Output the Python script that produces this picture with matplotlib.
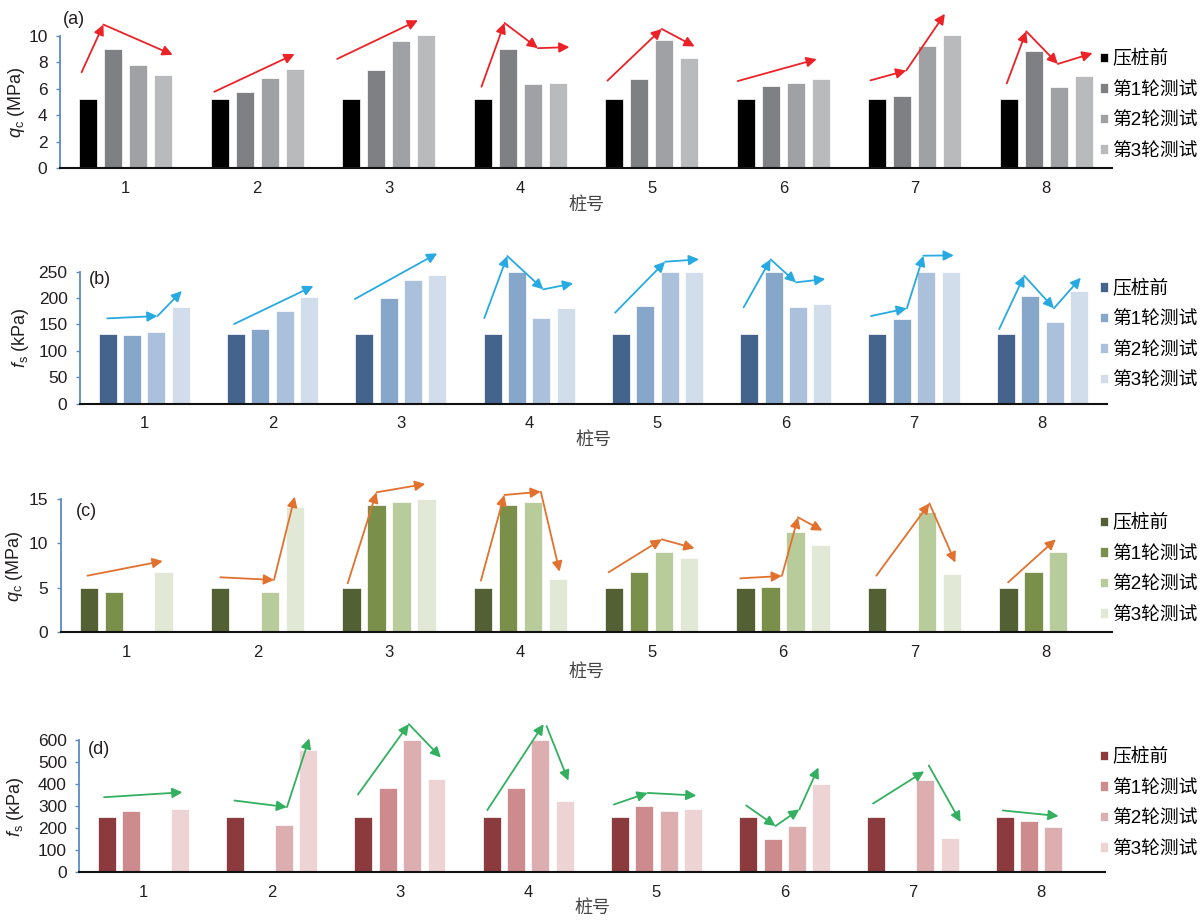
import numpy as np
import matplotlib
matplotlib.use('Agg')
from matplotlib import pyplot as plt

plt.rcParams['font.family'] = ['Liberation Sans', 'Noto Sans CJK SC']
plt.rcParams['mathtext.fontset'] = 'custom'
plt.rcParams['mathtext.rm'] = 'Liberation Sans'
plt.rcParams['mathtext.it'] = 'Liberation Sans:italic'
plt.rcParams['axes.unicode_minus'] = False

piles = [1, 2, 3, 4, 5, 6, 7, 8]
series_names = ['压桩前', '第1轮测试', '第2轮测试', '第3轮测试']
nan = np.nan

# (a) 锥尖阻力 qc (MPa)
a_before = [5.24, 5.24, 5.24, 5.24, 5.24, 5.24, 5.24, 5.24]
a_round1 = [9.01, 5.72, 7.39, 8.99, 6.76, 6.20, 5.47, 8.86]
a_round2 = [7.82, 6.78, 9.62, 6.38, 9.67, 6.46, 9.24, 6.13]
a_round3 = [7.04, 7.52, 10.08, 6.46, 8.35, 6.71, 10.08, 6.99]

# (b) 侧壁摩阻力 fs (kPa)
b_before = [132.6, 132.6, 132.6, 132.6, 132.6, 132.6, 132.6, 132.6]
b_round1 = [129.4, 141.4, 200.8, 250, 184.3, 250, 161.0, 204.5]
b_round2 = [135.1, 174.9, 233.6, 161.6, 250, 183.1, 250, 154.7]
b_round3 = [183.1, 201.4, 243.7, 181.8, 250, 189.4, 250, 212.8]

# (c) 锥尖阻力 qc (MPa)
c_before = [4.95, 4.95, 4.95, 4.95, 4.95, 4.95, 4.95, 4.95]
c_round1 = [4.57, nan, 14.36, 14.36, 6.82, 5.06, nan, 6.82]
c_round2 = [nan, 4.50, 14.62, 14.62, 9.00, 11.29, 13.54, 9.04]
c_round3 = [6.75, 14.10, 15.00, 6.04, 8.36, 9.86, 6.52, nan]

# (d) 侧壁摩阻力 fs (kPa)
d_before = [249, 249, 249, 249, 249, 249, 249, 249]
d_round1 = [277.5, nan, 381, 381, 298.5, 150, nan, 231]
d_round2 = [nan, 214.5, 600, 600, 277.5, 210, 417, 205.5]
d_round3 = [286.5, 556.5, 421.5, 322.5, 286.5, 399, 156, nan]

# 趋势箭头: (桩号, [(相对桩号的x偏移, y), ...])
a_trends = [
    (1, [(-0.336, 7.24), (-0.17, 10.84), (0.357, 8.56)]),
    (2, [(-0.327, 5.77), (0.284, 8.61)]),
    (3, [(-0.392, 8.25), (0.222, 11.16)]),
    (4, [(-0.295, 6.15), (-0.12, 10.96), (0.134, 9.06), (0.374, 9.14)]),
    (5, [(-0.337, 6.61), (0.076, 10.51), (0.326, 9.19)]),
    (6, [(-0.346, 6.58), (0.255, 8.23)]),
    (7, [(-0.337, 6.63), (-0.065, 7.37), (0.229, 11.65)]),
    (8, [(-0.30, 6.41), (-0.152, 10.33), (0.088, 7.87), (0.352, 8.68)]),
]
b_trends = [
    (1, [(-0.287, 161.6), (0.104, 166), (0.293, 213.4)]),
    (2, [(-0.299, 150.9), (0.319, 222.9)]),
    (3, [(-0.358, 198.2), (0.284, 284.7)]),
    (4, [(-0.349, 162.2), (-0.17, 279.7), (0.111, 216.5), (0.343, 227.9)]),
    (5, [(-0.33, 172.3), (0.06, 268.9), (0.324, 273.4)]),
    (6, [(-0.328, 182.4), (-0.118, 273.4), (0.08, 229.8), (0.308, 236.1)]),
    (7, [(-0.335, 166), (-0.056, 180.6), (0.073, 280.3), (0.31, 280.9)]),
    (8, [(-0.336, 141.4), (-0.141, 242.4), (0.09, 180.6), (0.3, 238.6)]),
]
c_trends = [
    (1, [(-0.295, 6.37), (0.278, 8.02)]),
    (2, [(-0.284, 6.19), (0.125, 5.89), (0.283, 15.26)]),
    (3, [(-0.314, 5.51), (-0.095, 15.75), (0.276, 16.69)]),
    (4, [(-0.30, 5.81), (-0.122, 15.45), (0.156, 15.82), (0.299, 6.82)]),
    (5, [(-0.328, 6.75), (0.076, 10.46), (0.326, 9.45)]),
    (6, [(-0.326, 6.07), (-0.009, 6.34), (0.114, 12.94), (0.299, 11.44)]),
    (7, [(-0.29, 6.37), (0.114, 14.51), (0.311, 7.84)]),
    (8, [(-0.287, 5.62), (0.076, 10.46)]),
]
d_trends = [
    (1, [(-0.307, 340.5), (0.304, 363)]),
    (2, [(-0.29, 325.5), (0.119, 295.5), (0.293, 607.5)]),
    (3, [(-0.328, 352.5), (0.069, 672), (0.319, 520.5)]),
    (4, [(-0.319, 282), (0.12, 672)]),
    (4, [(0.143, 663), (0.313, 415.5)]),
    (5, [(-0.332, 307.5), (-0.069, 360), (0.311, 348)]),
    (6, [(-0.30, 303), (-0.072, 210), (0.114, 285), (0.263, 475.5)]),
    (7, [(-0.311, 312), (0.087, 457.5)]),
    (7, [(0.123, 484.5), (0.371, 228)]),
    (8, [(-0.30, 280.5), (0.135, 255)]),
]

W, H = 1204, 922
fig = plt.figure(figsize=(W / 100, H / 100), dpi=100)


def px_axes(left, right, top, bottom):
    return fig.add_axes([left / W, 1 - bottom / H, (right - left) / W, (bottom - top) / H])


panels = [
    dict(box=(60, 1112, 35.7, 168.3), data=[a_before, a_round1, a_round2, a_round3],
         colors=['#000000', '#7f8084', '#a0a1a5', '#b9babc'], arrow='#ec2227',
         trends=a_trends, ylim=10, yticks=[0, 2, 4, 6, 8, 10],
         ylabel=r'$q_{\rm c}$ (MPa)', tag='(a)', tag_xy=(63, 19), ylab_x=27,
         xlab_y=205, leg_y=105),
    dict(box=(80, 1106.5, 271.7, 403.7), data=[b_before, b_round1, b_round2, b_round3],
         colors=['#44648e', '#87a7ca', '#abc0da', '#d1ddeb'], arrow='#27aae1',
         trends=b_trends, ylim=250, yticks=[0, 50, 100, 150, 200, 250],
         ylabel=r'$f_{\rm s}$ (kPa)', tag='(b)', tag_xy=(89, 279), ylab_x=31,
         xlab_y=440, leg_y=334.5),
    dict(box=(60.5, 1111.5, 499, 632.3), data=[c_before, c_round1, c_round2, c_round3],
         colors=['#536034', '#7a8f49', '#b8cb9b', '#e1e9d6'], arrow='#e2712d',
         trends=c_trends, ylim=15, yticks=[0, 5, 10, 15],
         ylabel=r'$q_{\rm c}$ (MPa)', tag='(c)', tag_xy=(76, 511.7), ylab_x=25,
         xlab_y=672, leg_y=569),
    dict(box=(79.3, 1105.4, 740, 872.3), data=[d_before, d_round1, d_round2, d_round3],
         colors=['#8b3b3d', '#cd8b8e', '#dcaeaf', '#edd3d3'], arrow='#33b05f',
         trends=d_trends, ylim=600, yticks=[0, 100, 200, 300, 400, 500, 600],
         ylabel=r'$f_{\rm s}$ (kPa)', tag='(d)', tag_xy=(88, 749), ylab_x=26,
         xlab_y=908, leg_y=803),
]

x = np.array(piles, dtype=float)
pitch = 0.19
width = 0.14

for p in panels:
    left, right, top, bottom = p['box']
    ax = px_axes(left, right, top, bottom)

    for i, (vals, col) in enumerate(zip(p['data'], p['colors'])):
        ax.bar(x + (i - 1.5) * pitch, vals, width, color=col, edgecolor='white',
               linewidth=0.5, label=series_names[i], clip_on=False, zorder=2)

    # 趋势箭头
    for pile, pts in p['trends']:
        for (dx0, y0), (dx1, y1) in zip(pts[:-1], pts[1:]):
            ax.annotate('', xy=(pile + dx1, y1), xytext=(pile + dx0, y0),
                        annotation_clip=False, zorder=3,
                        arrowprops=dict(arrowstyle='-|>', color=p['arrow'], lw=1.3,
                                        mutation_scale=15, shrinkA=0, shrinkB=0))

    ax.set_xlim(0.5, 8.5)
    ax.set_ylim(0, p['ylim'])
    ax.set_xticks(piles)
    ax.set_yticks(p['yticks'])
    ax.tick_params(axis='x', length=0, pad=9, labelsize=12, labelcolor='#231f20')
    ax.tick_params(axis='y', length=3, width=1, color='#5b8bc6', pad=6,
                   labelsize=12.5, labelcolor='#231f20')

    for s in ['top', 'right']:
        ax.spines[s].set_visible(False)
    ax.spines['left'].set_color('#5b8bc6')
    ax.spines['left'].set_linewidth(1.3)
    ax.spines['bottom'].set_color('#111111')
    ax.spines['bottom'].set_linewidth(1.5)
    ax.spines['bottom'].set_zorder(4)

    ax.set_ylabel(p['ylabel'], fontsize=13, color='#231f20')
    ax.yaxis.set_label_coords((p['ylab_x'] - left) / (right - left), 0.5)
    ax.set_xlabel('桩号', fontsize=13, color='#444444', va='center')
    ax.xaxis.set_label_coords(0.5, -(p['xlab_y'] - bottom) / (bottom - top))

    tx, ty = p['tag_xy']
    fig.text(tx / W, 1 - ty / H, p['tag'], fontsize=13, color='#231f20',
             ha='left', va='center')

    ax.legend(loc='center left', bbox_to_anchor=(1100 / W, 1 - p['leg_y'] / H),
              bbox_transform=fig.transFigure, frameon=False, fontsize=13.5,
              handlelength=0.4, handleheight=0.4, handletextpad=0.25,
              labelspacing=0.72, borderpad=0, borderaxespad=0)

fig.savefig('out.png', dpi=100)
